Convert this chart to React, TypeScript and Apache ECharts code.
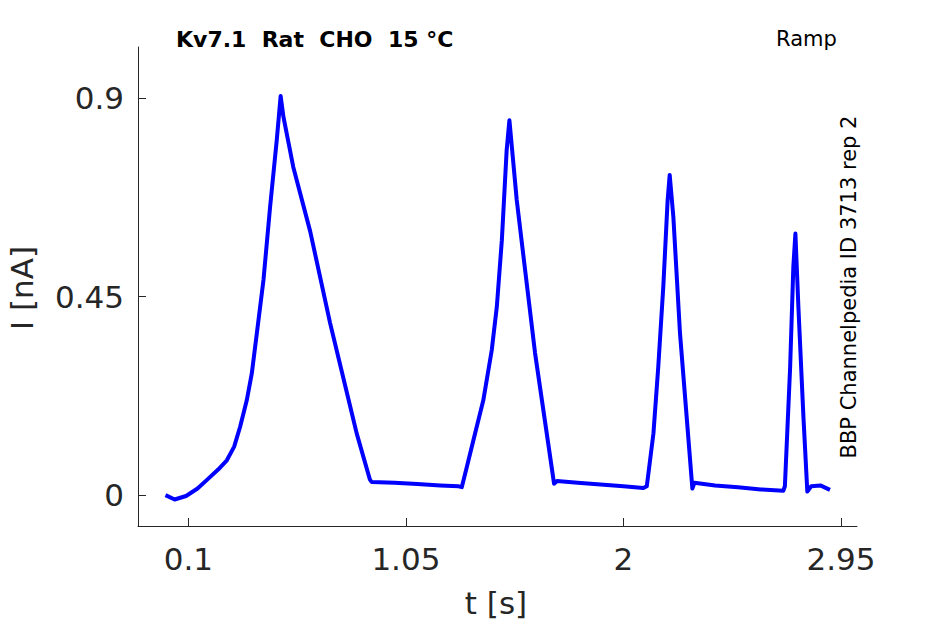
import React, { useEffect, useRef } from "react";
import * as echarts from "echarts";

// Time [s] and current [nA]
const tValues: number[] = [
  0.0, 0.04, 0.09, 0.14, 0.18, 0.23, 0.268, 0.3, 0.326, 0.355, 0.377, 0.399, 0.428, 0.457, 0.486, 0.503,
  0.515, 0.558, 0.632, 0.719, 0.777, 0.835, 0.893, 0.9, 1.0, 1.1, 1.2, 1.28, 1.294,
  1.316, 1.345, 1.388, 1.425, 1.447, 1.469, 1.49, 1.502, 1.534, 1.614, 1.697,
  1.71, 1.8, 1.9, 2.0, 2.087, 2.102, 2.131, 2.152, 2.174, 2.193, 2.202, 2.218, 2.247, 2.301,
  2.31, 2.4, 2.5, 2.6, 2.698, 2.705, 2.728, 2.742, 2.751, 2.764, 2.786, 2.803,
  2.82, 2.86, 2.902,
];
const iValues: number[] = [
  0.0, -0.01, -0.002, 0.015, 0.034, 0.058, 0.079, 0.11, 0.155, 0.215, 0.276, 0.367, 0.488, 0.654, 0.805, 0.905,
  0.858, 0.744, 0.598, 0.39, 0.265, 0.14, 0.035, 0.03, 0.028, 0.025, 0.022, 0.02, 0.018,
  0.064, 0.125, 0.215, 0.329, 0.427, 0.578, 0.782, 0.85, 0.669, 0.322, 0.026,
  0.032, 0.028, 0.024, 0.02, 0.016, 0.02, 0.14, 0.29, 0.472, 0.669, 0.726, 0.631, 0.367, 0.015,
  0.028, 0.022, 0.018, 0.013, 0.01, 0.02, 0.29, 0.518, 0.593, 0.427, 0.178, 0.008,
  0.02, 0.022, 0.012,
];

const xTicks: number[] = [0.1, 1.05, 2, 2.95];
const yTicks: number[] = [0, 0.45, 0.9];

const titleText = "Kv7.1  Rat  CHO  15 °C";
const protocolText = "Ramp";
const sourceText = "BBP Channelpedia ID 3713 rep 2";
const xName = "t [s]";
const yName = "I [nA]";

const FONT = "'DejaVu Sans', sans-serif";
const AXIS_COLOR = "#262626";

export default function App() {
  const ref = useRef<HTMLDivElement>(null);

  useEffect(() => {
    if (!ref.current) return;
    const chart = echarts.init(ref.current, undefined, { renderer: "svg" });
    const data = tValues.map((t, i) => [t, iValues[i]]);

    chart.setOption({
      animation: false,
      backgroundColor: "#ffffff",
      grid: { left: 138, right: 88, top: 47, bottom: 98, containLabel: false },
      xAxis: {
        type: "value",
        min: -0.12,
        max: 3.02,
        axisLine: { show: true, onZero: false, lineStyle: { color: AXIS_COLOR, width: 1 } },
        axisTick: { show: true, inside: true, length: 8, customValues: xTicks, lineStyle: { color: AXIS_COLOR } },
        axisLabel: {
          customValues: xTicks,
          fontFamily: FONT,
          fontSize: 31,
          color: AXIS_COLOR,
          margin: 17,
        },
        splitLine: { show: false },
      },
      yAxis: {
        type: "value",
        min: -0.07,
        max: 1.016,
        axisLine: { show: true, onZero: false, lineStyle: { color: AXIS_COLOR, width: 1 } },
        axisTick: { show: true, inside: true, length: 8, customValues: yTicks, lineStyle: { color: AXIS_COLOR } },
        axisLabel: {
          customValues: yTicks,
          fontFamily: FONT,
          fontSize: 31,
          color: AXIS_COLOR,
          margin: 14,
        },
        splitLine: { show: false },
      },
      graphic: [
        {
          type: "text",
          x: 176,
          y: 39.5,
          style: { text: titleText, font: `bold 22px ${FONT}`, fill: "#000000", textAlign: "left", textVerticalAlign: "middle" },
        },
        {
          type: "text",
          x: 776,
          y: 38.5,
          style: { text: protocolText, font: `21px ${FONT}`, fill: "#000000", textAlign: "left", textVerticalAlign: "middle" },
        },
        {
          type: "text",
          x: 849,
          y: 287,
          rotation: Math.PI / 2,
          style: { text: sourceText, font: `21px ${FONT}`, fill: "#000000", textAlign: "center", textVerticalAlign: "middle" },
        },
        {
          type: "text",
          x: 496,
          y: 603,
          style: { text: xName, font: `31px ${FONT}`, fill: AXIS_COLOR, textAlign: "center", textVerticalAlign: "middle" },
        },
        {
          type: "text",
          x: 22,
          y: 288,
          rotation: Math.PI / 2,
          style: { text: yName, font: `31px ${FONT}`, fill: AXIS_COLOR, textAlign: "center", textVerticalAlign: "middle" },
        },
      ],
      series: [
        {
          type: "line",
          data,
          showSymbol: false,
          symbol: "none",
          lineStyle: { color: "#0000ff", width: 4, join: "round" },
          clip: true,
        },
      ],
    });

    return () => chart.dispose();
  }, []);

  return <div ref={ref} style={{ position: "fixed", left: 0, top: 0, width: 945, height: 624 }} />;
}
